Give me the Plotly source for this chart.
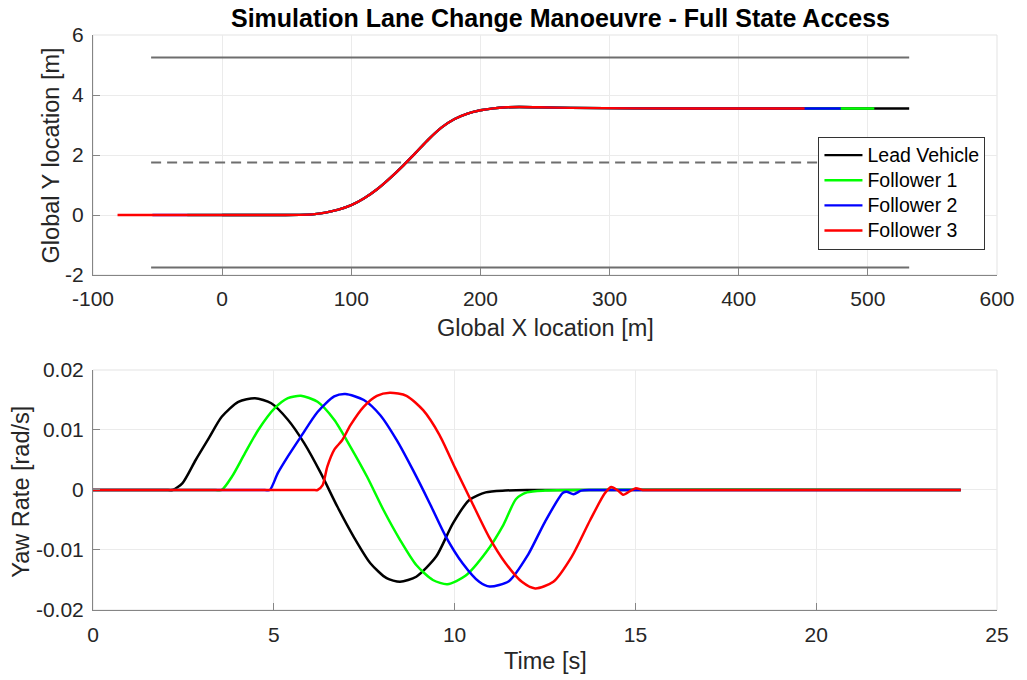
import plotly.graph_objects as go

FONT = "Liberation Sans, Arial, Helvetica, sans-serif"

# ---------------- data: top plot (path in X-Y plane) ----------------
path_x = [40, 60, 70, 80, 90, 100, 110, 120, 130, 140, 150, 160, 170, 180, 190,
          200, 210, 220, 230, 245, 270, 320, 400]
path_y = [0.0, 0.005, 0.02, 0.08, 0.18, 0.33, 0.56, 0.86, 1.23, 1.64, 2.08, 2.53,
          2.92, 3.20, 3.38, 3.49, 3.555, 3.59, 3.60, 3.59, 3.57, 3.555, 3.55]
final_y = 3.55

vehicles = ["Lead Vehicle", "Follower 1", "Follower 2", "Follower 3"]
colors = ["#000000", "#00ff00", "#0000ff", "#ff0000"]
start_x = [0, -27, -54, -81]
end_x = [532, 505, 479, 451]

lane_x = [-55, 532]
lane_solid_y = [5.25, -1.75]
lane_dashed_y = [1.75]

# ---------------- data: bottom plot (yaw rate) ----------------
t_lead = [0, 2.0, 2.2, 2.47, 2.84, 3.2, 3.56, 4.02, 4.48, 4.93, 5.39, 5.84, 6.30, 6.76,
          7.21, 7.67, 8.12, 8.49, 8.94, 9.49, 9.95, 10.4, 10.86, 11.4, 12.0, 24.0]
r_lead = [0, 0, 0, 0.0011, 0.005, 0.0086, 0.0122, 0.0147, 0.0153, 0.01445, 0.0117,
          0.0078, 0.0028, -0.0028, -0.0078, -0.0122, -0.0147, -0.0153, -0.01445,
          -0.0111, -0.0056, -0.0017, -0.0004, -0.0001, 0, 0]

t_f1 = [0, 3.38, 3.56, 3.84, 4.2, 4.57, 5.02, 5.39, 5.75, 6.21, 6.67, 7.12, 7.58, 8.03,
        8.49, 8.94, 9.4, 9.8, 10.3, 10.88, 11.35, 11.7, 12.0, 12.5, 24.0]
r_f1 = [0, 0, 0, 0.0022, 0.0061, 0.01, 0.0136, 0.0153, 0.0157, 0.0147, 0.0117, 0.0072,
        0.0022, -0.0033, -0.0083, -0.0125, -0.015, -0.0157, -0.0143, -0.0103,
        -0.0058, -0.0015, -0.0004, -0.0001, 0]

t_f2 = [0, 4.75, 4.89, 5.11, 5.39, 5.75, 6.21, 6.67, 6.98, 7.49, 7.94, 8.4, 8.85, 9.31,
        9.76, 10.22, 10.68, 10.97, 11.5, 12.03, 12.5, 12.99, 13.1, 13.29, 13.5,
        13.8, 24.0]
r_f2 = [0, 0, 0, 0.0028, 0.0056, 0.0089, 0.013, 0.0156, 0.016, 0.015, 0.0125, 0.0083,
        0.0033, -0.0022, -0.0078, -0.0122, -0.0153, -0.0161, -0.0152, -0.0108,
        -0.0053, -0.0005, -0.0003, -0.0007, -0.0001, 0, 0]

t_f3 = [0, 6.08, 6.21, 6.35, 6.48, 6.67, 6.89, 7.12, 7.49, 7.85, 8.21, 8.67, 9.13, 9.58,
        10.02, 10.49, 10.95, 11.41, 11.86, 12.23, 12.73, 13.24, 13.75, 14.15, 14.33,
        14.5, 14.66, 14.85, 15.01, 15.2, 15.4, 24.0]
r_f3 = [0, 0, 0, 0.0008, 0.0039, 0.0067, 0.0083, 0.0108, 0.0139, 0.0157, 0.0162,
        0.0157, 0.0133, 0.0092, 0.0036, -0.0022, -0.0078, -0.0122, -0.0153, -0.0164,
        -0.0153, -0.0111, -0.005, -0.0006, 0.0005, 0.0, -0.0008, -0.0002, 0.0003,
        0.0, 0, 0]

yaw_t = [t_lead, t_f1, t_f2, t_f3]
yaw_r = [r_lead, r_f1, r_f2, r_f3]

# ---------------- tick labels ----------------
x1_ticks = [-100, 0, 100, 200, 300, 400, 500, 600]
x1_labels = ["-100", "0", "100", "200", "300", "400", "500", "600"]
y1_ticks = [-2, 0, 2, 4, 6]
y1_labels = ["-2", "0", "2", "4", "6"]
x2_ticks = [0, 5, 10, 15, 20, 25]
x2_labels = ["0", "5", "10", "15", "20", "25"]
y2_ticks = [-0.02, -0.01, 0, 0.01, 0.02]
y2_labels = ["-0.02", "-0.01", "0", "0.01", "0.02"]

title_text = "Simulation Lane Change Manoeuvre - Full State Access"

# ---------------- figure ----------------
fig = go.Figure()

LANE_COLOR = "#6e6e6e"
for ly in lane_solid_y:
    fig.add_trace(go.Scatter(x=lane_x, y=[ly, ly], mode="lines",
                             line=dict(color=LANE_COLOR, width=2),
                             showlegend=False, hoverinfo="skip",
                             xaxis="x", yaxis="y"))
for ly in lane_dashed_y:
    fig.add_trace(go.Scatter(x=lane_x, y=[ly, ly], mode="lines",
                             line=dict(color=LANE_COLOR, width=2, dash="10px,6px"),
                             showlegend=False, hoverinfo="skip",
                             xaxis="x", yaxis="y"))

LEG_TEXT = '<span style="font-size:19.5px">{}</span>'
for name, col, sx, ex in zip(vehicles, colors, start_x, end_x):
    xs = [sx] + [p for p in path_x if sx < p < ex] + [ex]
    ys = [0.0] + [py for p, py in zip(path_x, path_y) if sx < p < ex] + [final_y]
    fig.add_trace(go.Scatter(x=xs, y=ys, mode="lines", name=LEG_TEXT.format(name),
                             hovertemplate=name + "<extra></extra>",
                             line=dict(color=col, width=2.4, shape="spline", smoothing=0.6),
                             xaxis="x", yaxis="y"))

for name, col, tt, rr in zip(vehicles, colors, yaw_t, yaw_r):
    fig.add_trace(go.Scatter(x=tt, y=rr, mode="lines", name=name,
                             line=dict(color=col, width=2.5, shape="spline", smoothing=0.7),
                             showlegend=False, xaxis="x2", yaxis="y2"))

AX_COLOR = "#858585"
GRID = "#ebebeb"
TICKFONT = dict(family=FONT, size=21, color="#262626")


def axis_style(**kw):
    d = dict(showgrid=True, gridcolor=GRID, gridwidth=1, zeroline=False,
             showline=True, linecolor=AX_COLOR, linewidth=1, mirror=False,
             ticks="inside", ticklen=7, tickcolor=AX_COLOR, tickwidth=1,
             tickfont=TICKFONT, tickmode="array")
    d.update(kw)
    return d


TOP = [0.5826, 1.0]
BOT = [0.0, 0.4174]

fig.update_layout(
    width=1027, height=680,
    margin=dict(l=93, r=21, t=35, b=70),
    paper_bgcolor="white", plot_bgcolor="white",
    font=dict(family=FONT, color="#262626"),
    xaxis=axis_style(range=[-100, 600], tickvals=x1_ticks, ticktext=x1_labels,
                     domain=[0, 1], anchor="y", ticklabelstandoff=5),
    yaxis=axis_style(range=[-2, 6], tickvals=y1_ticks, ticktext=y1_labels,
                     domain=TOP, anchor="x", ticklabelstandoff=4),
    xaxis2=axis_style(range=[0, 25], tickvals=x2_ticks, ticktext=x2_labels,
                      domain=[0, 1], anchor="y2", ticklabelstandoff=6),
    yaxis2=axis_style(range=[-0.02, 0.02], tickvals=y2_ticks, ticktext=y2_labels,
                      domain=BOT, anchor="x2", ticklabelstandoff=4),
    legend=dict(x=0.8025, y=0.8233, xanchor="left", yanchor="top",
                bgcolor="white", bordercolor="#333333", borderwidth=1,
                font=dict(family=FONT, size=17, color="#000000"),
                itemwidth=38, tracegroupgap=0),
    showlegend=True,
)

# light box borders (top / right) like MATLAB's box
for xr, yr in (("x domain", "y domain"), ("x2 domain", "y2 domain")):
    fig.add_shape(type="rect", xref=xr, yref=yr, x0=0, x1=1, y0=0, y1=1,
                  line=dict(color="#e3e3e3", width=1), layer="below")

ann = dict(showarrow=False, xref="paper", yref="paper",
           font=dict(family=FONT, size=23.5, color="#262626"))
fig.add_annotation(text="<b>" + title_text + "</b>", x=0.517, y=1.0296,
                   xanchor="center", yanchor="middle",
                   **{**ann, "font": dict(family=FONT, size=25, color="#000000")})
fig.add_annotation(text="Global X location [m]", x=0.5, y=0.4904,
                   xanchor="center", yanchor="middle", **ann)
fig.add_annotation(text="Time [s]", x=0.5, y=-0.0887,
                   xanchor="center", yanchor="middle", **ann)
fig.add_annotation(text="Global Y location [m]", x=-0.046, y=0.7913, textangle=-90,
                   xanchor="center", yanchor="middle", **ann)
fig.add_annotation(text="Yaw Rate [rad/s]", x=-0.08, y=0.2052, textangle=-90,
                   xanchor="center", yanchor="middle", **ann)

fig.write_html("out.html")
